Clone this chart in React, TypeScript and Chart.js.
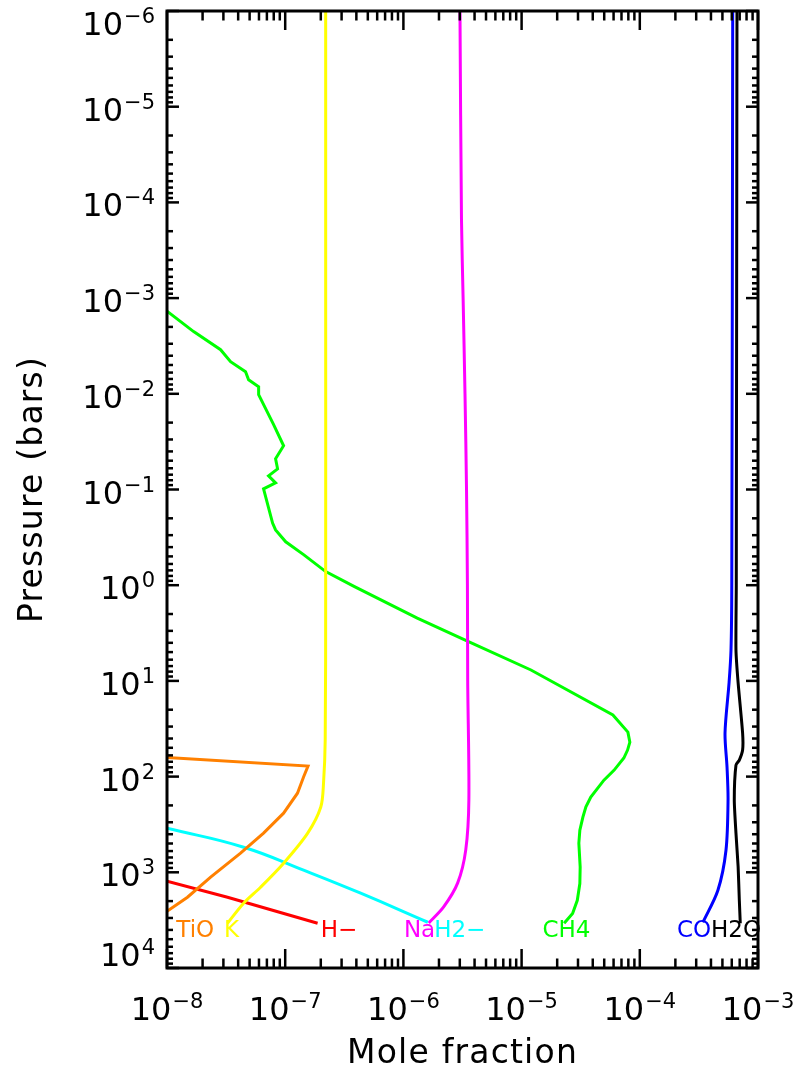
import React, { useEffect, useRef } from "react";
import { Chart, registerables } from "chart.js";

Chart.register(...registerables);

// Axis decades (tick labels are 10^exponent)
const xTickExponents = [-8, -7, -6, -5, -4, -3];
const yTickExponents = [-6, -5, -4, -3, -2, -1, 0, 1, 2, 3, 4];

// Species profiles: pressure (bars) and mole fraction
const tioPressure = [63.0, 77.6, 101, 149, 241, 390, 631, 1125, 1823, 2553];
const tioFraction = [1.0e-8, 1.56e-7, 1.43e-7, 1.27e-7, 9.69e-8, 6.56e-8, 4.19e-8, 2.34e-8, 1.49e-8, 1.0e-8];

const kPressure = [1e-6, 1e-3, 1, 41.5, 117, 208, 390, 803, 1432, 2105, 3406];
const kFraction = [2.2e-7, 2.2e-7, 2.2e-7, 2.18e-7, 2.11e-7, 2.0e-7, 1.55e-7, 9.7e-8, 6.19e-8, 4.45e-8, 3.25e-8];

const hmPressure = [1240, 1823, 3410];
const hmFraction = [1.0e-8, 3.25e-8, 1.88e-7];

const naPressure = [1e-6, 1.5e-4, 1e-3, 1e-2, 1e-1, 1, 10, 175, 583, 1291, 2301, 3388];
const naFraction = [3.01e-6, 3.1e-6, 3.2e-6, 3.32e-6, 3.42e-6, 3.48e-6, 3.5e-6, 3.58e-6, 3.37e-6, 2.88e-6, 2.19e-6, 1.64e-6];

const h2mPressure = [346, 547, 951, 1655, 3326];
const h2mFraction = [1.0e-8, 4.45e-8, 1.43e-7, 4.35e-7, 1.61e-6];

const ch4Pressure = [
  1.37e-3, 2.24e-3, 3.46e-3, 4.62e-3, 5.87e-3, 7.13e-3, 8.43e-3, 1.02e-2, 2.1e-2, 3.49e-2,
  4.77e-2, 6.08e-2, 7.19e-2, 8.53e-2, 9.86e-2, 0.224, 0.264, 0.352, 0.482, 0.721, 1.03, 2.21,
  3.83, 7.69, 22.7, 34.3, 43.6, 52.8, 64.0, 85.5, 109, 164, 207, 265, 363, 496, 879, 1310, 1960,
  2700, 3410,
];
const ch4Fraction = [
  1.0e-8, 1.68e-8, 2.84e-8, 3.45e-8, 4.62e-8, 4.9e-8, 5.96e-8, 5.96e-8, 7.98e-8, 9.69e-8,
  8.29e-8, 8.62e-8, 7.23e-8, 8.29e-8, 6.56e-8, 7.82e-8, 8.29e-8, 1.01e-7, 1.44e-7, 2.2e-7, 3.82e-7,
  1.31e-6, 3.48e-6, 1.2e-5, 5.92e-5, 7.93e-5, 8.24e-5, 7.88e-5, 7.33e-5, 6.07e-5, 4.97e-5, 3.85e-5,
  3.5e-5, 3.3e-5, 3.11e-5, 3.05e-5, 3.13e-5, 3.11e-5, 2.96e-5, 2.7e-5, 2.29e-5,
];

const coPressure = [1e-6, 1, 4.75, 10.5, 35.1, 79.6, 176, 588, 1540, 3330];
const coFraction = [6.11e-4, 6.0e-4, 5.91e-4, 5.69e-4, 5.26e-4, 5.47e-4, 5.58e-4, 5.36e-4, 4.58e-4, 3.42e-4];

const h2oPressure = [1e-6, 1, 4.75, 10.5, 35.1, 52.8, 67.2, 75.8, 176, 390, 879, 1960, 3410];
const h2oFraction = [6.64e-4, 6.55e-4, 6.51e-4, 6.79e-4, 7.41e-4, 7.41e-4, 6.95e-4, 6.51e-4, 6.3e-4, 6.51e-4, 6.79e-4, 6.95e-4, 7.08e-4];

// In-plot species labels
const labelNames = ["TiO", "K", "H\u2212", "Na", "H2\u2212", "CH4", "CO", "H2O"];
const labelFractions = [1.2e-8, 3.03e-8, 2.0e-7, 1.01e-6, 1.82e-6, 1.5e-5, 2.06e-4, 4.0e-4];
const labelPressure = 4130;
const labelColors = ["#ff8000", "#ffff00", "#ff0000", "#ff00ff", "#00ffff", "#00ff00", "#0000ff", "#000000"];

const xTitle = "Mole fraction";
const yTitle = "Pressure (bars)";

const FONT = '"DejaVu Sans", sans-serif';

const pts = (p: number[], f: number[]) => p.map((y, i) => ({ x: f[i], y }));

function expText(e: number) {
  return e < 0 ? "\u2212" + Math.abs(e) : String(e);
}

function drawPower(ctx: CanvasRenderingContext2D, e: number, x: number, baseline: number, align: "center" | "right") {
  const base = "10";
  const sup = expText(e);
  ctx.font = `32px ${FONT}`;
  const wb = ctx.measureText(base).width;
  ctx.font = `21px ${FONT}`;
  const ws = ctx.measureText(sup).width;
  const gap = 1;
  const total = wb + gap + ws;
  const x0 = align === "center" ? x - total / 2 : x - total;
  ctx.textAlign = "left";
  ctx.textBaseline = "alphabetic";
  ctx.fillStyle = "#000";
  ctx.font = `32px ${FONT}`;
  ctx.fillText(base, x0, baseline);
  ctx.font = `21px ${FONT}`;
  ctx.fillText(sup, x0 + wb + gap, baseline - 12);
}

const idlPlugin = {
  id: "idlFrame",
  afterDatasetsDraw(chart: any) {
    const ctx: CanvasRenderingContext2D = chart.ctx;
    const xs = chart.scales.x;
    const ys = chart.scales.y;
    ctx.save();
    ctx.font = `23px ${FONT}`;
    ctx.textAlign = "left";
    ctx.textBaseline = "middle";
    labelNames.forEach((name, i) => {
      ctx.fillStyle = labelColors[i];
      ctx.fillText(name, xs.getPixelForValue(labelFractions[i]), ys.getPixelForValue(labelPressure));
    });
    ctx.restore();
  },
  afterDraw(chart: any) {
    const ctx: CanvasRenderingContext2D = chart.ctx;
    const { left, right, top, bottom } = chart.chartArea;
    const xs = chart.scales.x;
    const ys = chart.scales.y;
    ctx.save();
    ctx.strokeStyle = "#000";
    ctx.lineWidth = 2.5;
    ctx.lineCap = "butt";
    const line = (x1: number, y1: number, x2: number, y2: number) => {
      ctx.beginPath();
      ctx.moveTo(x1, y1);
      ctx.lineTo(x2, y2);
      ctx.stroke();
    };
    // x ticks (top and bottom, inward)
    xTickExponents.forEach((e, idx) => {
      for (let m = 1; m <= 9; m++) {
        if (idx === xTickExponents.length - 1 && m > 1) break;
        const px = xs.getPixelForValue(m * Math.pow(10, e));
        const len = m === 1 ? 19 : 9.5;
        line(px, bottom, px, bottom - len);
        line(px, top, px, top + len);
      }
    });
    // y ticks (left and right, inward)
    yTickExponents.forEach((e, idx) => {
      for (let m = 1; m <= 9; m++) {
        if (idx === yTickExponents.length - 1 && m > 1) break;
        const py = ys.getPixelForValue(m * Math.pow(10, e));
        const len = m === 1 ? 12 : 6;
        line(left, py, left + len, py);
        line(right, py, right - len, py);
      }
    });
    // frame
    ctx.lineWidth = 3;
    ctx.strokeRect(left, top, right - left, bottom - top);

    // tick labels
    xTickExponents.forEach((e) => {
      const px = xs.getPixelForValue(Math.pow(10, e));
      drawPower(ctx, e, px, 1020, "center");
    });
    yTickExponents.forEach((e) => {
      const py = ys.getPixelForValue(Math.pow(10, e));
      let baseline = py + 14;
      if (baseline - 23.5 < top) baseline = top + 24;
      if (baseline > bottom - 2) baseline = bottom - 2;
      drawPower(ctx, e, left - 12, baseline, "right");
    });

    // axis titles
    ctx.fillStyle = "#000";
    ctx.font = `33px ${FONT}`;
    (ctx as any).letterSpacing = "1.2px";
    ctx.textAlign = "center";
    ctx.textBaseline = "alphabetic";
    ctx.fillText(xTitle, (left + right) / 2, 1063);
    ctx.save();
    ctx.translate(42, (top + bottom) / 2);
    ctx.rotate(-Math.PI / 2);
    ctx.fillText(yTitle, 0, 0);
    ctx.restore();
    ctx.restore();
  },
};

export default function App() {
  const ref = useRef<HTMLCanvasElement>(null);
  useEffect(() => {
    const canvas = ref.current!;
    const mk = (label: string, p: number[], f: number[], color: string, tension: number) => ({
      label,
      data: pts(p, f),
      borderColor: color,
      backgroundColor: color,
      borderWidth: 3,
      pointRadius: 0,
      showLine: true,
      tension,
      fill: false,
    });
    const chart = new Chart(canvas, {
      type: "scatter",
      data: {
        datasets: [
          mk("TiO", tioPressure, tioFraction, "#ff8000", 0),
          mk("K", kPressure, kFraction, "#ffff00", 0.3),
          mk("H-", hmPressure, hmFraction, "#ff0000", 0),
          mk("H2-", h2mPressure, h2mFraction, "#00ffff", 0.45),
          mk("Na", naPressure, naFraction, "#ff00ff", 0.3),
          mk("CH4", ch4Pressure, ch4Fraction, "#00ff00", 0),
          mk("CO", coPressure, coFraction, "#0000ff", 0.3),
          mk("H2O", h2oPressure, h2oFraction, "#000000", 0.2),
        ],
      },
      options: {
        animation: false,
        responsive: false,
        devicePixelRatio: 1,
        layout: { padding: { left: 167, right: 45, top: 11, bottom: 102 } },
        plugins: { legend: { display: false }, tooltip: { enabled: false } },
        elements: { point: { radius: 0 } },
        scales: {
          x: { type: "logarithmic", min: 1e-8, max: 1e-3, display: false },
          y: { type: "logarithmic", min: 1e-6, max: 1e4, reverse: true, display: false },
        },
      },
      plugins: [idlPlugin],
    } as any);
    return () => chart.destroy();
  }, []);
  return (
    <div style={{ position: "fixed", left: 0, top: 0, width: 803, height: 1070, background: "#fff" }}>
      <canvas ref={ref} width={803} height={1070} style={{ display: "block" }} />
    </div>
  );
}
